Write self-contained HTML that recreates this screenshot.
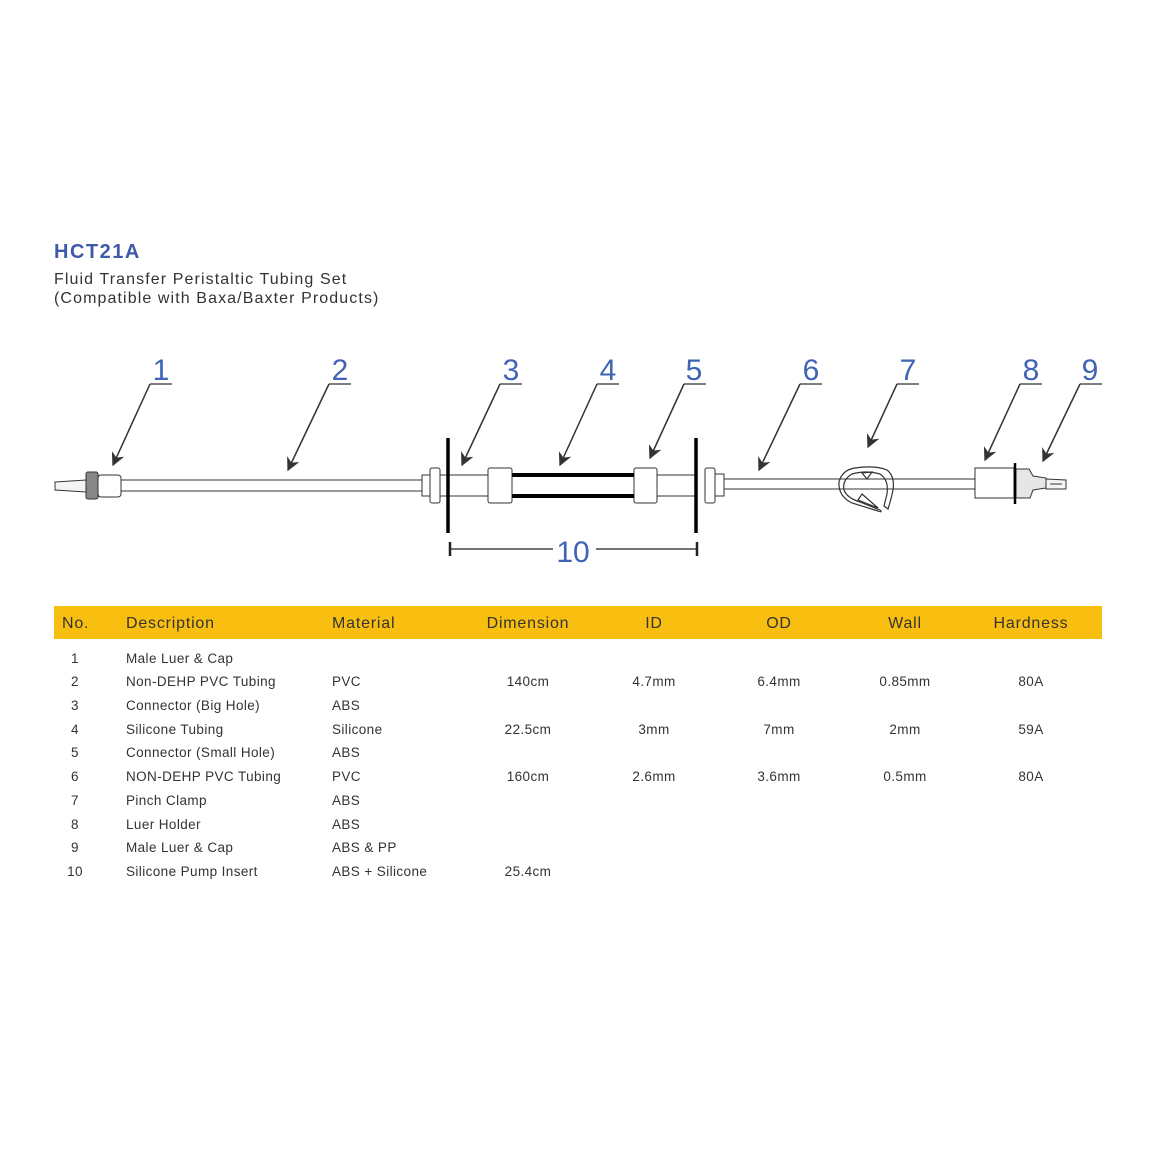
<!DOCTYPE html>
<html><head><meta charset="utf-8"><style>
html,body{margin:0;padding:0;background:#fff;}
svg{display:block;}
text{font-family:"Liberation Sans",sans-serif;}
</style></head><body>
<svg width="1150" height="1150" viewBox="0 0 1150 1150" xmlns="http://www.w3.org/2000/svg">
<defs>
<marker id="ah" viewBox="0 0 10 10" refX="9" refY="5" markerWidth="9" markerHeight="9" orient="auto" markerUnits="strokeWidth">
<path d="M0,0 L10,5 L0,10 L3,5 z" fill="#333"/>
</marker>
</defs>
<text x="54" y="258" font-size="20" font-weight="bold" fill="#3f5aa8" letter-spacing="1.5">HCT21A</text>
<text x="54" y="284" font-size="16" fill="#333" letter-spacing="1.1">Fluid Transfer Peristaltic Tubing Set</text>
<text x="54" y="303" font-size="16" fill="#333" letter-spacing="1.1">(Compatible with Baxa/Baxter Products)</text>

<g font-size="30" fill="#3f63b5" text-anchor="middle">
<text x="161" y="380">1</text><text x="340" y="380">2</text><text x="511" y="380">3</text>
<text x="608" y="380">4</text><text x="694" y="380">5</text><text x="811" y="380">6</text>
<text x="908" y="380">7</text><text x="1031" y="380">8</text><text x="1090" y="380">9</text>
<text x="573" y="562">10</text>
</g>
<g stroke="#555" stroke-width="1.5" fill="none">
<path d="M150 384H172M329 384H351M500 384H522M597 384H619M684 384H706M800 384H822M897 384H919M1020 384H1042M1080 384H1102"/>
</g>
<g stroke="#333" stroke-width="1.5" fill="none" marker-end="url(#ah)">
<line x1="150" y1="384" x2="113" y2="465"/>
<line x1="329" y1="384" x2="288" y2="470"/>
<line x1="500" y1="384" x2="462" y2="465"/>
<line x1="597" y1="384" x2="560" y2="465"/>
<line x1="684" y1="384" x2="650" y2="458"/>
<line x1="800" y1="384" x2="759" y2="470"/>
<line x1="897" y1="384" x2="868" y2="447"/>
<line x1="1020" y1="384" x2="985" y2="460"/>
<line x1="1080" y1="384" x2="1043" y2="461"/>
</g>

<g stroke="#333" stroke-width="1" fill="#fff">
<path d="M55 482 L86 480 L86 492 L55 490 Z" fill="#f4f4f4"/>
<rect x="86" y="472" width="12" height="27" rx="2" fill="#888"/>
<rect x="98" y="475" width="23" height="22" rx="3"/>
<rect x="121" y="480" width="302" height="11"/>
<rect x="422" y="475" width="10" height="21"/>
<rect x="430" y="468" width="10" height="35" rx="2"/>
<rect x="440" y="475" width="48" height="21"/>
<rect x="512" y="475" width="122" height="21" stroke="none"/>
<rect x="488" y="468" width="24" height="35" rx="2"/>
<rect x="634" y="468" width="23" height="35" rx="2"/>
<rect x="657" y="475" width="40" height="21"/>
<rect x="705" y="468" width="10" height="35" rx="2"/>
<rect x="715" y="474" width="9" height="22"/>
<rect x="724" y="479" width="251" height="10"/>
<rect x="975" y="468" width="39" height="30"/>
<path d="M1016 469 L1029 469 L1033 476 L1046 478 L1046 488 L1033 490 L1030 498 L1016 498 Z" fill="#e6e6e6"/>
<path d="M1046 479 L1066 480 L1066 489 L1046 489 Z" fill="#f4f4f4"/>
<line x1="1050" y1="484" x2="1062" y2="484"/>
</g>
<g stroke="#000" stroke-width="4">
<line x1="512" y1="475" x2="634" y2="475"/><line x1="512" y1="496" x2="634" y2="496"/>
</g>
<g stroke="#000" stroke-width="3.5">
<line x1="448" y1="438" x2="448" y2="533"/>
<line x1="696" y1="438" x2="696" y2="533"/>
</g>
<line x1="1015" y1="463" x2="1015" y2="504" stroke="#000" stroke-width="2.5"/>
<g fill="none" stroke="#333" stroke-width="1.2">
<path d="M855 468 Q875 465 887 470 Q895 476 893 490 Q891 500 888 509 L884 506 L887 494 Q889 480 880 474 Q866 470 852 474 Q842 480 844 490 Q847 498 860 502 L880 510 Q883 513 878 511 L852 503 Q838 496 839 482 Q842 470 855 468 Z"/>
<path d="M862 494 L878 508 L858 500 Z"/>
<path d="M862 473 L872 472 L867 479 Z"/>
</g>
<g stroke="#222">
<line x1="450" y1="549" x2="553" y2="549" stroke-width="1.3"/>
<line x1="596" y1="549" x2="697" y2="549" stroke-width="1.3"/>
<line x1="450" y1="542" x2="450" y2="556" stroke-width="2.5"/>
<line x1="697" y1="542" x2="697" y2="556" stroke-width="2.5"/>
</g>

<rect x="54" y="606" width="1048" height="33" fill="#f9bf10"/>
<g font-size="16" fill="#333" letter-spacing="0.8">
<text x="62" y="628">No.</text><text x="126" y="628">Description</text><text x="332" y="628">Material</text>
<g text-anchor="middle"><text x="528" y="628">Dimension</text><text x="654" y="628">ID</text><text x="779" y="628">OD</text><text x="905" y="628">Wall</text><text x="1031" y="628">Hardness</text></g>
</g>
<g font-size="13.5" fill="#333" letter-spacing="0.4">
<g text-anchor="middle">
<text x="75" y="663">1</text><text x="75" y="686">2</text><text x="75" y="710">3</text><text x="75" y="734">4</text><text x="75" y="757">5</text><text x="75" y="781">6</text><text x="75" y="805">7</text><text x="75" y="829">8</text><text x="75" y="852">9</text><text x="75" y="876">10</text>
</g>
<text x="126" y="663">Male Luer &amp; Cap</text>
<text x="126" y="686">Non-DEHP PVC Tubing</text>
<text x="126" y="710">Connector (Big Hole)</text>
<text x="126" y="734">Silicone Tubing</text>
<text x="126" y="757">Connector (Small Hole)</text>
<text x="126" y="781">NON-DEHP PVC Tubing</text>
<text x="126" y="805">Pinch Clamp</text>
<text x="126" y="829">Luer Holder</text>
<text x="126" y="852">Male Luer &amp; Cap</text>
<text x="126" y="876">Silicone Pump Insert</text>
<text x="332" y="686">PVC</text><text x="332" y="710">ABS</text><text x="332" y="734">Silicone</text><text x="332" y="757">ABS</text><text x="332" y="781">PVC</text><text x="332" y="805">ABS</text><text x="332" y="829">ABS</text><text x="332" y="852">ABS &amp; PP</text><text x="332" y="876">ABS + Silicone</text>
<g text-anchor="middle">
<text x="528" y="686">140cm</text><text x="654" y="686">4.7mm</text><text x="779" y="686">6.4mm</text><text x="905" y="686">0.85mm</text><text x="1031" y="686">80A</text>
<text x="528" y="734">22.5cm</text><text x="654" y="734">3mm</text><text x="779" y="734">7mm</text><text x="905" y="734">2mm</text><text x="1031" y="734">59A</text>
<text x="528" y="781">160cm</text><text x="654" y="781">2.6mm</text><text x="779" y="781">3.6mm</text><text x="905" y="781">0.5mm</text><text x="1031" y="781">80A</text>
<text x="528" y="876">25.4cm</text>
</g>
</g>
</svg>
</body></html>
